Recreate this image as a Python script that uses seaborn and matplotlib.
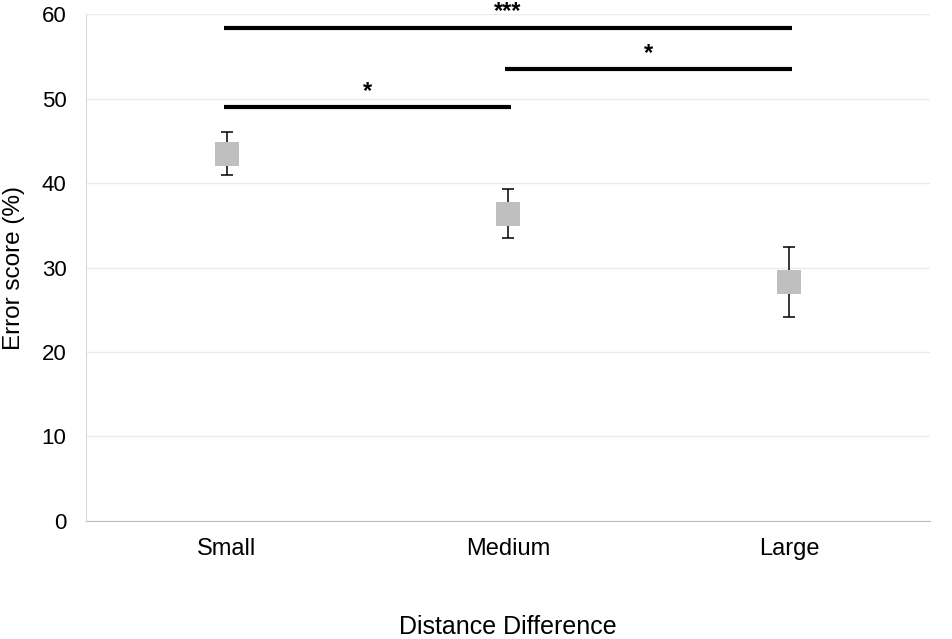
import numpy as np
import pandas as pd
import matplotlib
matplotlib.use("Agg")
import matplotlib.pyplot as plt
import seaborn as sns

# Data
categories = ["Small", "Medium", "Large"]
error_score = [43.4, 36.3, 28.3]
err_upper = [46.0, 39.35, 32.4]
err_lower = [40.9, 33.45, 24.2]

# Significance brackets: (from, to, height, label)
sig_from = [0, 1, 0]
sig_to = [1, 2, 2]
sig_height = [49.0, 53.5, 58.4]
sig_label = ["*", "*", "***"]

df = pd.DataFrame({"Distance Difference": categories, "Error score (%)": error_score})

sns.set_style("white")
plt.rcParams['font.family'] = ['Liberation Sans', 'DejaVu Sans']
plt.rcParams['text.color'] = 'black'
plt.rcParams['axes.labelcolor'] = 'black'
plt.rcParams['xtick.color'] = 'black'
plt.rcParams['ytick.color'] = 'black'

fig = plt.figure(figsize=(9.52, 6.39), dpi=100)
ax = fig.add_axes([0.0903, 0.1847, 0.8867, 0.7933])

x = np.arange(len(categories))
yerr = [np.array(error_score) - np.array(err_lower), np.array(err_upper) - np.array(error_score)]
ax.errorbar(x, error_score, yerr=yerr, fmt="none", ecolor="black", elinewidth=1.1,
            capsize=4, capthick=1.1, zorder=2)
sns.scatterplot(data=df, x="Distance Difference", y="Error score (%)", marker="s", s=290,
                color="#bfbfbf", linewidth=0, zorder=3, ax=ax)

# significance bars
for a, b, h, lab in zip(sig_from, sig_to, sig_height, sig_label):
    ax.plot([a - 0.01, b + 0.01], [h, h], color="black", lw=3, solid_capstyle="butt", clip_on=False)
    ax.text((a + b) / 2, h + 0.5, lab, ha="center", va="bottom", fontsize=17,
            fontweight="bold", clip_on=False)

ax.set_xlim(-0.5, 2.5)
ax.set_ylim(0, 60)
ax.set_yticks(range(0, 61, 10))
ax.set_xticks(x)
ax.set_xticklabels(categories)
ax.yaxis.grid(True, color="#ebebeb", lw=1)
ax.set_axisbelow(True)
ax.tick_params(axis="both", length=0)
ax.tick_params(axis="y", pad=14, labelsize=16)
ax.tick_params(axis="x", pad=12, labelsize=17)
for s in ["top", "right"]:
    ax.spines[s].set_visible(False)
ax.spines["left"].set_color("#d9d9d9")
ax.spines["bottom"].set_color("#bfbfbf")
ax.set_xlabel("Distance Difference", fontsize=18, labelpad=40)
ax.set_ylabel("Error score (%)", fontsize=17.5, labelpad=12)

fig.savefig("out.png", dpi=100)
